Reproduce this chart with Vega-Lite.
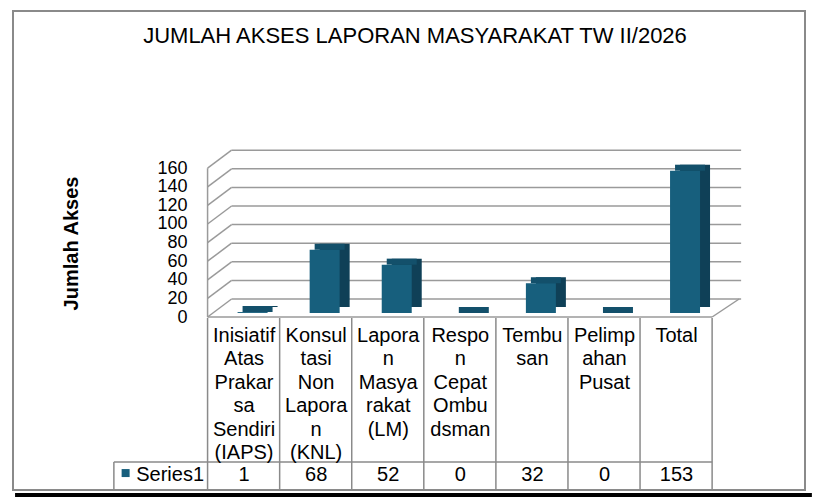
{
  "$schema": "https://vega.github.io/schema/vega-lite/v6.json",
  "width": 792,
  "height": 479,
  "autosize": "none",
  "padding": {"left": 13, "top": 11, "right": 12, "bottom": 12},
  "background": "white",
  "title": {
    "text": "JUMLAH AKSES LAPORAN MASYARAKAT TW II/2026",
    "font": "Liberation Sans",
    "fontSize": 22,
    "fontWeight": "normal",
    "color": "black",
    "anchor": "middle",
    "baseline": "alphabetic",
    "offset": -54,
    "dx": 6
  },
  "config": {
    "view": {"stroke": "#8a8a8a", "strokeWidth": 2},
    "text": {"font": "Liberation Sans"}
  },
  "datasets": {
    "access": [
      {"cat": "Inisiatif Atas Prakarsa Sendiri (IAPS)", "i": 0, "value": 1, "label": "Inisiatif\nAtas\nPrakar\nsa\nSendiri\n(IAPS)"},
      {"cat": "Konsultasi Non Laporan (KNL)", "i": 1, "value": 68, "label": "Konsul\ntasi\nNon\nLapora\nn\n(KNL)"},
      {"cat": "Laporan Masyarakat (LM)", "i": 2, "value": 52, "label": "Lapora\nn\nMasya\nrakat\n(LM)"},
      {"cat": "Respon Cepat Ombudsman", "i": 3, "value": 0, "label": "Respo\nn\nCepat\nOmbu\ndsman"},
      {"cat": "Tembusan", "i": 4, "value": 32, "label": "Tembu\nsan"},
      {"cat": "Pelimpahan Pusat", "i": 5, "value": 0, "label": "Pelimp\nahan\nPusat"},
      {"cat": "Total", "i": 6, "value": 153, "label": "Total"}
    ],
    "ticks": [
      {"v": 0}, {"v": 20}, {"v": 40}, {"v": 60}, {"v": 80},
      {"v": 100}, {"v": 120}, {"v": 140}, {"v": 160}
    ]
  },
  "resolve": {"scale": {"y": "independent"}, "axis": {"y": "independent"}},
  "layer": [
    {
      "layer": [
        {
          "data": {"name": "ticks"},
          "mark": {"type": "rule", "color": "#9a9a9a", "strokeWidth": 1.5, "xOffset": 24, "x2Offset": 29, "yOffset": -18},
          "encoding": {
            "x": {"datum": 0, "type": "quantitative", "axis": null, "scale": {"domain": [-2.6301, 8.2192], "nice": false, "zero": false}},
            "x2": {"datum": 7},
            "y": {
              "field": "v", "type": "quantitative",
              "scale": {"domain": [-186.02, 329.03], "nice": false, "zero": false},
              "axis": {
                "values": [0, 20, 40, 60, 80, 100, 120, 140, 160],
                "grid": false, "ticks": false, "tickSize": 0, "domain": false,
                "offset": -174, "labelPadding": 0, "labelOverlap": false,
                "labelFont": "Liberation Sans", "labelFontSize": 18, "labelColor": "black",
                "title": "Jumlah Akses",
                "titleFont": "Liberation Sans", "titleFontSize": 20, "titleFontWeight": "bold", "titleColor": "black",
                "titleX": -116, "titleY": 232, "titleAngle": -90, "titleAlign": "center", "titleBaseline": "middle"
              }
            }
          }
        },
        {
          "data": {"name": "ticks"},
          "mark": {"type": "rule", "color": "#9a9a9a", "strokeWidth": 1.5, "x2Offset": 24, "y2Offset": -18},
          "encoding": {
            "x": {"datum": 0, "type": "quantitative", "axis": null},
            "x2": {"datum": 0},
            "y": {"field": "v", "type": "quantitative"},
            "y2": {"field": "v"}
          }
        },
        {
          "data": {"values": [{}]},
          "mark": {"type": "rule", "color": "#9a9a9a", "strokeWidth": 1.5},
          "encoding": {
            "x": {"datum": 0, "type": "quantitative", "axis": null},
            "y": {"datum": 0, "type": "quantitative"},
            "y2": {"datum": 160}
          }
        },
        {
          "data": {"values": [{}]},
          "mark": {"type": "rule", "color": "#9a9a9a", "strokeWidth": 1.5},
          "encoding": {
            "x": {"datum": 0, "type": "quantitative", "axis": null},
            "x2": {"datum": 7},
            "y": {"datum": 0, "type": "quantitative"}
          }
        },
        {
          "data": {"values": [{}]},
          "mark": {"type": "rule", "color": "#9a9a9a", "strokeWidth": 1.5, "x2Offset": 27, "y2Offset": -18},
          "encoding": {
            "x": {"datum": 7, "type": "quantitative", "axis": null},
            "x2": {"datum": 7},
            "y": {"datum": 0, "type": "quantitative"},
            "y2": {"datum": 0}
          }
        },
        {
          "data": {"name": "access"},
          "mark": {"type": "bar", "orient": "vertical", "width": 30, "color": "#0f4057", "xOffset": 55, "yOffset": -10, "y2Offset": -10},
          "encoding": {
            "x": {"field": "i", "type": "quantitative", "axis": null},
            "y": {"field": "value", "type": "quantitative"},
            "y2": {"datum": 0}
          }
        },
        {
          "data": {"name": "access"},
          "mark": {"type": "bar", "orient": "vertical", "width": 30, "color": "#13506b", "xOffset": 50, "yOffset": -10, "y2Offset": -4},
          "encoding": {
            "x": {"field": "i", "type": "quantitative", "axis": null},
            "y": {"field": "value", "type": "quantitative"},
            "y2": {"field": "value"}
          }
        },
        {
          "data": {"name": "access"},
          "mark": {"type": "bar", "orient": "vertical", "width": 30, "color": "#175f7d", "xOffset": 45, "yOffset": -4, "y2Offset": -4},
          "encoding": {
            "x": {"field": "i", "type": "quantitative", "axis": null},
            "y": {"field": "value", "type": "quantitative"},
            "y2": {"datum": 0},
            "tooltip": [
              {"field": "cat", "type": "nominal", "title": "Kategori"},
              {"field": "value", "type": "quantitative", "title": "Jumlah Akses"}
            ]
          }
        }
      ]
    },
    {
      "layer": [
        {
          "data": {"name": "access"},
          "mark": {"type": "rule", "color": "#8a8a8a", "strokeWidth": 1.5},
          "encoding": {
            "x": {"field": "i", "type": "quantitative", "axis": null},
            "y": {"datum": -0.726, "type": "quantitative", "axis": null, "scale": {"domain": [-13.846, 6.624], "nice": false, "zero": false, "reverse": true}},
            "y2": {"datum": 6.624}
          }
        },
        {
          "data": {"values": [{}]},
          "mark": {"type": "rule", "color": "#8a8a8a", "strokeWidth": 1.5},
          "encoding": {
            "x": {"datum": 7, "type": "quantitative", "axis": null},
            "y": {"datum": -0.726, "type": "quantitative", "axis": null},
            "y2": {"datum": 6.624}
          }
        },
        {
          "data": {"values": [{}]},
          "mark": {"type": "rule", "color": "#8a8a8a", "strokeWidth": 1.5},
          "encoding": {
            "x": {"datum": -1.30, "type": "quantitative", "axis": null},
            "x2": {"datum": 7},
            "y": {"datum": 5.427, "type": "quantitative", "axis": null}
          }
        },
        {
          "data": {"values": [{}]},
          "mark": {"type": "rule", "color": "#8a8a8a", "strokeWidth": 1.5},
          "encoding": {
            "x": {"datum": -1.30, "type": "quantitative", "axis": null},
            "y": {"datum": 5.427, "type": "quantitative", "axis": null},
            "y2": {"datum": 6.624}
          }
        },
        {
          "data": {"name": "access"},
          "mark": {"type": "text", "align": "center", "baseline": "top", "lineBreak": "\n", "lineHeight": 23.4, "fontSize": 20, "color": "black", "xOffset": 36.5},
          "encoding": {
            "x": {"field": "i", "type": "quantitative", "axis": null},
            "y": {"datum": -0.38, "type": "quantitative", "axis": null},
            "text": {"field": "label"}
          }
        },
        {
          "data": {"name": "access"},
          "mark": {"type": "text", "align": "center", "baseline": "middle", "fontSize": 20, "color": "black", "xOffset": 36.5},
          "encoding": {
            "x": {"field": "i", "type": "quantitative", "axis": null},
            "y": {"datum": 6, "type": "quantitative", "axis": null},
            "text": {"field": "value", "type": "quantitative"}
          }
        },
        {
          "data": {"values": [{}]},
          "mark": {"type": "point", "shape": "square", "filled": true, "size": 64, "color": "#175f7d", "opacity": 1},
          "encoding": {
            "x": {"datum": -1.137, "type": "quantitative", "axis": null},
            "y": {"datum": 5.9, "type": "quantitative", "axis": null}
          }
        },
        {
          "data": {"values": [{}]},
          "mark": {"type": "text", "text": "Series1", "align": "left", "baseline": "middle", "fontSize": 20, "color": "black"},
          "encoding": {
            "x": {"datum": -0.99, "type": "quantitative", "axis": null},
            "y": {"datum": 6, "type": "quantitative", "axis": null}
          }
        },
        {
          "data": {"values": [{}]},
          "mark": {"type": "rule", "color": "black", "strokeWidth": 4},
          "encoding": {
            "x": {"datum": -2.671, "type": "quantitative", "axis": null},
            "x2": {"datum": 8.384},
            "y": {"datum": 6.838, "type": "quantitative", "axis": null}
          }
        }
      ]
    }
  ]
}
